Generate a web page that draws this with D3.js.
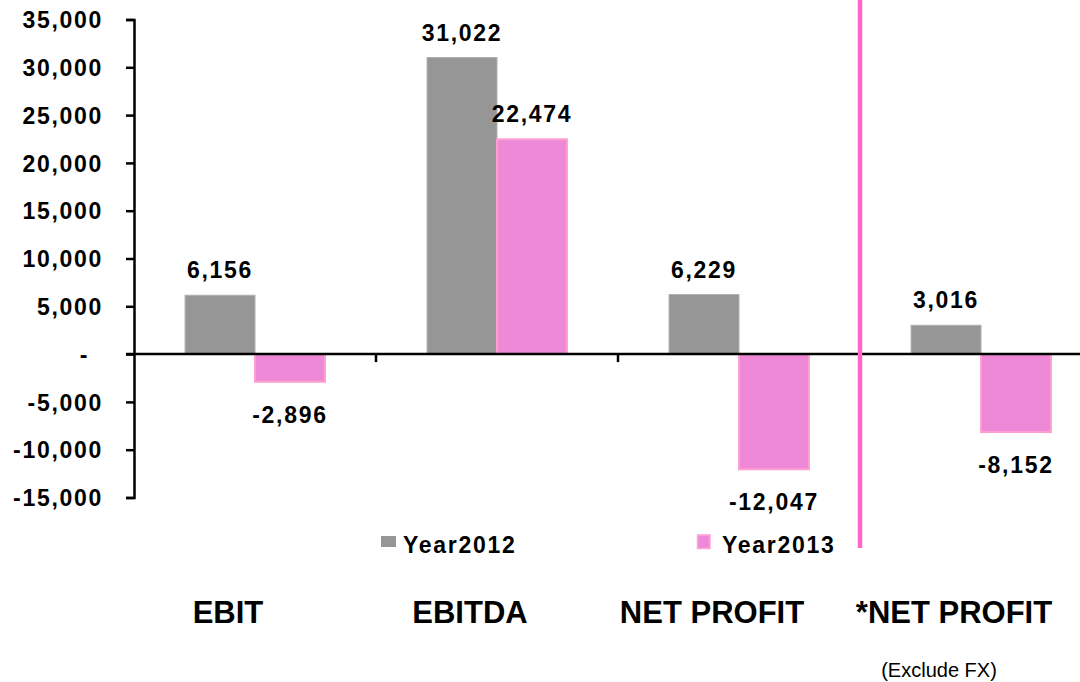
<!DOCTYPE html>
<html>
<head>
<meta charset="utf-8">
<script src="https://cdn.jsdelivr.net/npm/d3@7"></script>
<style>
  body { margin: 0; background: #fff; }
  svg { display: block; font-family: "Liberation Sans", Arial, sans-serif; }
</style>
</head>
<body>
<svg id="chart"></svg>
<script>
const width = 1080;
const height = 682;

// data
const categories = ["EBIT", "EBITDA", "NET PROFIT", "*NET PROFIT"];
const series = ["Year2012", "Year2013"];
const year2012 = [6156, 31022, 6229, 3016];
const year2013 = [-2896, 22474, -12047, -8152];
const yTicks = [35000, 30000, 25000, 20000, 15000, 10000, 5000, 0, -5000, -10000, -15000];
const colors = { Year2012: "#969696", Year2013: "#ee89d8" };

const svg = d3.select("#chart").attr("width", width).attr("height", height);

const x0 = d3.scaleBand().domain(categories).range([134, 1102]).padding(0);
const x1 = d3
  .scaleBand()
  .domain(series)
  .range([0, x0.bandwidth()])
  .paddingInner(0)
  .paddingOuter(0.73);
const y = d3.scaleLinear().domain([-15000, 35000]).range([497.5, 19.5]);

// plain hyphen for negatives, like the original
const fmt = d3.formatLocale({ decimal: ".", thousands: ",", grouping: [3], currency: ["", ""], minus: "-" }).format(",");
const numFont = { size: "23px", spacing: "1.7px" };

const rows = categories.map((c, i) => ({
  cat: c,
  values: [
    { key: "Year2012", value: year2012[i] },
    { key: "Year2013", value: year2013[i] },
  ],
}));

// y axis
const yAxis = d3
  .axisLeft(y)
  .tickValues(yTicks)
  .tickSize(8)
  .tickFormat((d) => (d === 0 ? "-" : fmt(d)));

const ya = svg.append("g").attr("transform", "translate(134,0)").call(yAxis);
ya.select(".domain").attr("stroke", "#000").attr("stroke-width", 2.5);
ya.selectAll(".tick line").attr("stroke", "#000").attr("stroke-width", 2.5);
ya.selectAll(".tick text")
  .attr("x", -31)
  .attr("dy", "0.36em")
  .attr("fill", "#000")
  .style("font-size", numFont.size)
  .style("font-weight", "bold")
  .style("letter-spacing", numFont.spacing)
  .attr("dx", (d) => (d === 0 ? -14 : 0));

// bars
const groups = svg
  .selectAll("g.cat")
  .data(rows)
  .enter()
  .append("g")
  .attr("class", "cat")
  .attr("transform", (d) => `translate(${x0(d.cat)},0)`);

groups
  .selectAll("rect")
  .data((d) => d.values)
  .enter()
  .append("rect")
  .attr("x", (d) => x1(d.key))
  .attr("width", x1.bandwidth())
  .attr("y", (d) => y(Math.max(0, d.value)))
  .attr("height", (d) => Math.abs(y(d.value) - y(0)))
  .attr("fill", (d) => colors[d.key])
  .attr("stroke", (d) => (d.key === "Year2013" ? "#ff9fd0" : "#b0b0b0"))
  .attr("stroke-width", (d) => (d.key === "Year2013" ? 2 : 1));

// zero line with category ticks
svg
  .append("line")
  .attr("x1", 126)
  .attr("x2", width)
  .attr("y1", y(0))
  .attr("y2", y(0))
  .attr("stroke", "#000")
  .attr("stroke-width", 2.5);

svg
  .selectAll("line.ctick")
  .data(categories.slice(1))
  .enter()
  .append("line")
  .attr("class", "ctick")
  .attr("x1", (d) => x0(d))
  .attr("x2", (d) => x0(d))
  .attr("y1", y(0))
  .attr("y2", y(0) + 8)
  .attr("stroke", "#000")
  .attr("stroke-width", 2.5);

// data labels
groups
  .selectAll("text.val")
  .data((d) => d.values)
  .enter()
  .append("text")
  .attr("class", "val")
  .attr("text-anchor", "middle")
  .attr("x", (d) => x1(d.key) + x1.bandwidth() / 2)
  .attr("y", (d) => (d.value >= 0 ? y(d.value) - 17 : y(d.value) + 41))
  .style("font-size", numFont.size)
  .style("font-weight", "bold")
  .style("letter-spacing", numFont.spacing)
  .text((d) => fmt(d.value))
  .each(function () {
    // keep the label inside the picture
    const b = this.getBBox();
    const ctm = this.parentNode.transform.baseVal.consolidate().matrix;
    const right = ctm.e + b.x + b.width;
    if (right > width - 3) {
      d3.select(this).attr("x", +d3.select(this).attr("x") - (right - (width - 3)));
    }
  });

// pink divider before the adjusted net profit
svg
  .append("line")
  .attr("x1", x0(categories[3]))
  .attr("x2", x0(categories[3]))
  .attr("y1", 0)
  .attr("y2", 548)
  .attr("stroke", "#ff66cc")
  .attr("stroke-width", 4.5);

// legend
const legend = svg.append("g");
legend
  .append("rect")
  .attr("x", 381)
  .attr("y", 536)
  .attr("width", 15)
  .attr("height", 11)
  .attr("fill", colors.Year2012);
legend
  .append("rect")
  .attr("x", 697.5)
  .attr("y", 535)
  .attr("width", 12.5)
  .attr("height", 13.5)
  .attr("fill", colors.Year2013)
  .attr("stroke", "#ffa6d4")
  .attr("stroke-width", 1.5);
legend
  .selectAll("text")
  .data([
    { label: series[0], x: 403 },
    { label: series[1], x: 722 },
  ])
  .enter()
  .append("text")
  .attr("x", (d) => d.x)
  .attr("y", 553)
  .style("font-size", "23px")
  .style("font-weight", "bold")
  .style("letter-spacing", "1.7px")
  .text((d) => d.label);

// category names under the chart
svg
  .selectAll("text.cat")
  .data(categories)
  .enter()
  .append("text")
  .attr("class", "cat")
  .attr("text-anchor", "middle")
  .attr("x", (d) => x0(d) + x0.bandwidth() / 2 - 27)
  .attr("y", 623)
  .style("font-size", "31px")
  .style("font-weight", "bold")
  .text((d) => d);

svg
  .append("text")
  .attr("text-anchor", "middle")
  .attr("x", 939)
  .attr("y", 677)
  .style("font-size", "20px")
  .text("(Exclude FX)");
</script>
</body>
</html>
